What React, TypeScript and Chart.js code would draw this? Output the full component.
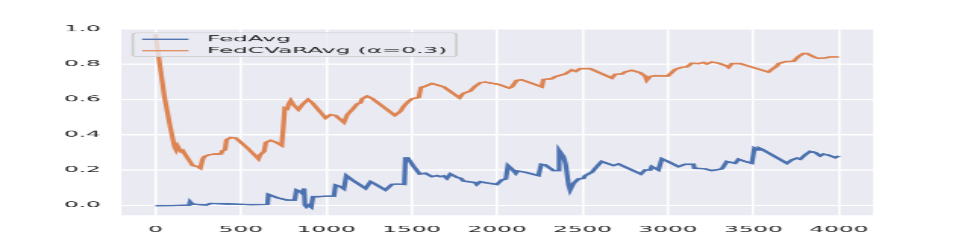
import React, { useEffect, useRef } from "react";
import { Chart, registerables } from "chart.js";

Chart.register(...registerables);

// ---- data ----
const seriesLabels = ["FedAvg", "FedCVaRAvg (α=0.3)"];

const fedAvgX = [
  0, 100, 198, 203, 210, 218, 260, 300, 325, 461, 560, 656, 661, 714, 772, 815, 825, 850, 860, 870,
  875, 885, 899, 912, 922, 947, 996, 1045, 1054, 1083, 1103, 1117, 1152, 1230, 1259, 1278, 1346,
  1385, 1414, 1457, 1463, 1477, 1512, 1547, 1580, 1619, 1648, 1667, 1687, 1706, 1726, 1765, 1788,
  1803, 1872, 1881, 1901, 1930, 1998, 2027, 2051, 2063, 2086, 2109, 2119, 2164, 2242, 2258, 2281,
  2330, 2355, 2363, 2388, 2402, 2418, 2427, 2447, 2476, 2505, 2515, 2554, 2583, 2612, 2681, 2710,
  2841, 2866, 2896, 2905, 2944, 2964, 2999, 3061, 3100, 3149, 3155, 3218, 3257, 3315, 3344, 3393,
  3413, 3452, 3491, 3506, 3526, 3534, 3549, 3696, 3725, 3754, 3774, 3803, 3832, 3862, 3891, 3910,
  3940, 3979, 4000,
];
const fedAvgY = [
  -0.003, -0.002, 0.0, 0.019, 0.012, 0.006, 0.003, 0.002, 0.01, 0.006, 0.003, 0.004, 0.061, 0.042,
  0.029, 0.029, 0.086, 0.076, 0.067, 0.095, 0.0, -0.01, 0.0, -0.01, 0.048, 0.048, 0.051, 0.051,
  0.114, 0.105, 0.093, 0.168, 0.143, 0.095, 0.133, 0.124, 0.086, 0.118, 0.12, 0.118, 0.267, 0.267,
  0.219, 0.177, 0.181, 0.162, 0.168, 0.162, 0.166, 0.152, 0.177, 0.158, 0.152, 0.137, 0.128, 0.118,
  0.133, 0.128, 0.118, 0.143, 0.149, 0.225, 0.206, 0.181, 0.194, 0.187, 0.168, 0.232, 0.229, 0.196,
  0.196, 0.31, 0.276, 0.229, 0.114, 0.086, 0.124, 0.149, 0.152, 0.168, 0.187, 0.219, 0.248, 0.225,
  0.234, 0.177, 0.2, 0.2, 0.219, 0.2, 0.263, 0.248, 0.219, 0.232, 0.232, 0.21, 0.206, 0.196, 0.206,
  0.248, 0.238, 0.261, 0.248, 0.238, 0.324, 0.314, 0.324, 0.318, 0.238, 0.257, 0.267, 0.261, 0.286,
  0.305, 0.299, 0.28, 0.29, 0.284, 0.27, 0.28,
];

const fedCvarX = [
  0, 52, 82, 111, 121, 130, 140, 150, 160, 169, 218, 247, 263, 276, 286, 315, 344, 383, 393, 407,
  416, 442, 471, 539, 603, 613, 636, 646, 675, 704, 739, 749, 757, 772, 780, 792, 807, 837, 860, 893,
  918, 996, 1025, 1054, 1103, 1123, 1152, 1181, 1200, 1210, 1239, 1268, 1401, 1434, 1453, 1482,
  1502, 1541, 1554, 1570, 1619, 1687, 1780, 1800, 1842, 1872, 1901, 1930, 2008, 2070, 2086, 2115,
  2144, 2261, 2271, 2320, 2340, 2398, 2437, 2460, 2486, 2544, 2671, 2691, 2730, 2749, 2788, 2837,
  2866, 2876, 2896, 2925, 2999, 3042, 3081, 3110, 3140, 3179, 3208, 3227, 3257, 3296, 3344, 3354,
  3374, 3422, 3588, 3608, 3637, 3647, 3686, 3735, 3764, 3793, 3813, 3862, 3881, 3920, 3949, 4000,
];
const fedCvarY = [
  0.97, 0.62, 0.467, 0.333, 0.314, 0.335, 0.318, 0.305, 0.31, 0.295, 0.225, 0.219, 0.21, 0.26,
  0.276, 0.286, 0.29, 0.291, 0.31, 0.314, 0.371, 0.385, 0.381, 0.324, 0.263, 0.286, 0.305, 0.356,
  0.368, 0.358, 0.339, 0.448, 0.552, 0.547, 0.575, 0.594, 0.571, 0.543, 0.571, 0.6, 0.581, 0.495,
  0.514, 0.509, 0.47, 0.514, 0.543, 0.575, 0.581, 0.604, 0.619, 0.606, 0.51, 0.533, 0.562, 0.59,
  0.604, 0.611, 0.669, 0.672, 0.691, 0.672, 0.61, 0.634, 0.648, 0.676, 0.695, 0.699, 0.686, 0.665,
  0.672, 0.709, 0.712, 0.672, 0.714, 0.718, 0.73, 0.745, 0.768, 0.76, 0.775, 0.775, 0.722, 0.743,
  0.745, 0.756, 0.766, 0.752, 0.733, 0.71, 0.731, 0.735, 0.733, 0.771, 0.783, 0.785, 0.806, 0.804,
  0.81, 0.802, 0.813, 0.806, 0.79, 0.783, 0.804, 0.804, 0.756, 0.771, 0.79, 0.804, 0.815, 0.817,
  0.844, 0.861, 0.861, 0.838, 0.834, 0.836, 0.842, 0.842,
];

const xTickValues = [0, 500, 1000, 1500, 2000, 2500, 3000, 3500, 4000];
const yTickValues = [0.0, 0.2, 0.4, 0.6, 0.8, 1.0];

// ---- styling ----
const BLUE = "#4C72B0";
const ORANGE = "#DD8452";
const AX_BG = "#EAEAF2";
const TEXT = "#262626";
const FS = 15.28;
const FAMILY = '"DejaVu Sans", sans-serif';
// logical figure 640x480, displayed at 970x242
const FIG_W = 640;
const FIG_H = 480;

const toPoints = (xs: number[], ys: number[]) => xs.map((x, i) => ({ x, y: ys[i] }));

const bgPlugin = {
  id: "axbg",
  beforeDraw(chart: any) {
    const { ctx, chartArea: a } = chart;
    ctx.save();
    ctx.fillStyle = AX_BG;
    ctx.fillRect(a.left, a.top, a.right - a.left, a.bottom - a.top);
    ctx.restore();
  },
};

const legendPlugin = {
  id: "mplLegend",
  afterDraw(chart: any) {
    const { ctx, chartArea: a } = chart;
    ctx.save();
    ctx.font = `${FS}px ${FAMILY}`;
    const left = a.left + 0.5 * FS;
    const top = a.top + 0.5 * FS;
    const hx0 = left + 0.4 * FS;
    const hx1 = hx0 + 2 * FS;
    const textX = hx1 + 0.8 * FS;
    const labels = chart.data.datasets.map((d: any) => d.label);
    const maxW = Math.max(...labels.map((l: string) => ctx.measureText(l).width));
    const w = textX - left + maxW + 0.4 * FS;
    const h = 47;
    const r = 3;
    ctx.beginPath();
    ctx.moveTo(left + r, top);
    ctx.lineTo(left + w - r, top);
    ctx.arcTo(left + w, top, left + w, top + r, r);
    ctx.lineTo(left + w, top + h - r);
    ctx.arcTo(left + w, top + h, left + w - r, top + h, r);
    ctx.lineTo(left + r, top + h);
    ctx.arcTo(left, top + h, left, top + h - r, r);
    ctx.lineTo(left, top + r);
    ctx.arcTo(left, top, left + r, top, r);
    ctx.closePath();
    ctx.fillStyle = "rgba(234,234,242,0.8)";
    ctx.fill();
    ctx.strokeStyle = "#CCCCCC";
    ctx.lineWidth = 1.6;
    ctx.stroke();
    chart.data.datasets.forEach((d: any, i: number) => {
      const y = top + 12.5 + i * 22.9;
      ctx.beginPath();
      ctx.moveTo(hx0, y);
      ctx.lineTo(hx1, y);
      ctx.strokeStyle = d.borderColor;
      ctx.lineWidth = 2.4;
      ctx.stroke();
      ctx.fillStyle = TEXT;
      ctx.textBaseline = "middle";
      ctx.textAlign = "left";
      ctx.fillText(d.label, textX, y);
    });
    ctx.restore();
  },
};

export default function App() {
  const ref = useRef<HTMLCanvasElement | null>(null);

  useEffect(() => {
    if (!ref.current) return;
    const font = { family: FAMILY, size: FS };
    const chart = new Chart(ref.current, {
      type: "line",
      data: {
        datasets: [
          {
            label: seriesLabels[0],
            data: toPoints(fedAvgX, fedAvgY),
            borderColor: BLUE,
            backgroundColor: BLUE,
            borderWidth: 3.2,
            pointRadius: 0,
            tension: 0,
            fill: false,
            order: 1,
          },
          {
            label: seriesLabels[1],
            data: toPoints(fedCvarX, fedCvarY),
            borderColor: ORANGE,
            backgroundColor: ORANGE,
            borderWidth: 3.2,
            pointRadius: 0,
            tension: 0,
            fill: false,
            order: 0,
          },
        ],
      },
      options: {
        responsive: false,
        animation: false,
        devicePixelRatio: 1,
        events: [],
        layout: { padding: { left: 0, top: FIG_H * 0.12, right: FIG_W * 0.1, bottom: 0 } },
        plugins: { legend: { display: false }, tooltip: { enabled: false } },
        scales: {
          x: {
            type: "linear",
            min: -200,
            max: 4200,
            afterBuildTicks: (s: any) => {
              s.ticks = xTickValues.map((v) => ({ value: v }));
            },
            afterFit: (s: any) => {
              s.height = FIG_H * 0.11;
            },
            grid: { color: "#FFFFFF", lineWidth: 1.5, drawTicks: false },
            border: { display: false },
            ticks: {
              font,
              color: TEXT,
              padding: 20,
              maxRotation: 0,
              autoSkip: false,
              callback: (v: any) => String(v),
            },
          },
          y: {
            type: "linear",
            min: -0.058,
            max: 1.0,
            afterBuildTicks: (s: any) => {
              s.ticks = yTickValues.map((v) => ({ value: v }));
            },
            afterFit: (s: any) => {
              s.width = FIG_W * 0.125;
            },
            grid: { color: "#FFFFFF", lineWidth: 2.6, drawTicks: false },
            border: { display: false },
            ticks: {
              font,
              color: TEXT,
              padding: 13.5,
              autoSkip: false,
              callback: (v: any) => Number(v).toFixed(1),
            },
          },
        },
      },
      plugins: [bgPlugin, legendPlugin],
    } as any);
    return () => chart.destroy();
  }, []);

  return (
    <canvas
      ref={ref}
      width={FIG_W}
      height={FIG_H}
      style={{ position: "fixed", left: 0, top: 0, width: "970px", height: "242px" }}
    />
  );
}
